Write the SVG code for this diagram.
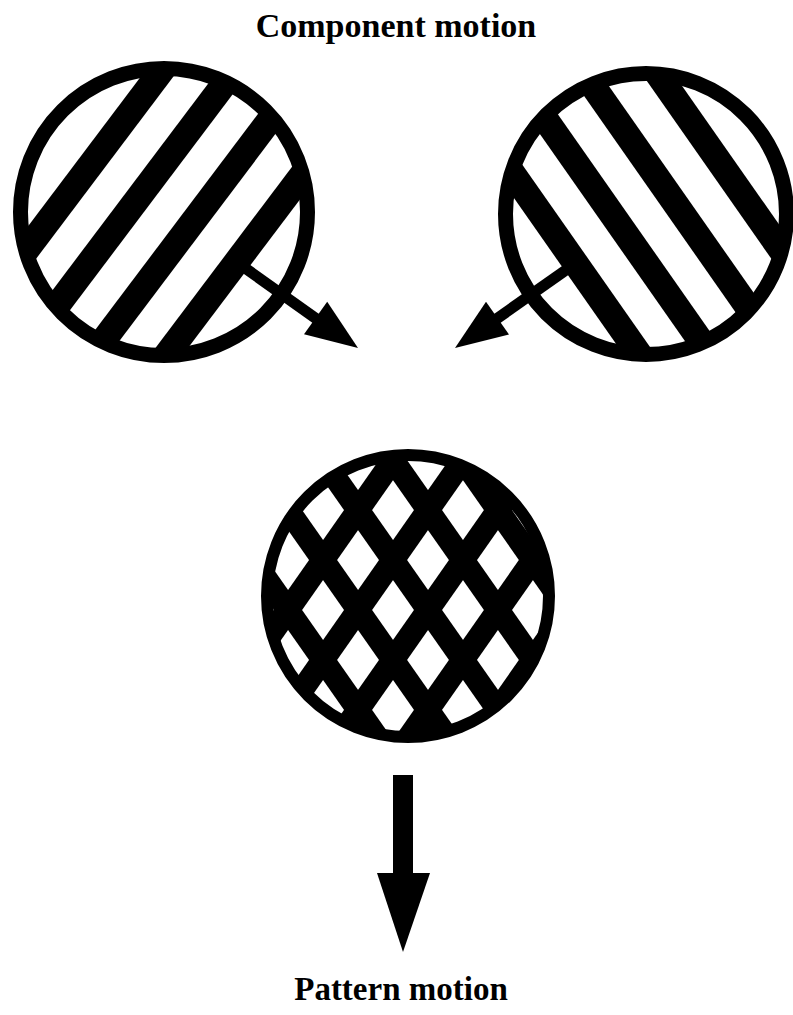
<svg xmlns="http://www.w3.org/2000/svg" width="793" height="1015" viewBox="0 0 793 1015">
<style>
.lbl{font-family:"Liberation Serif","Times New Roman",serif;font-weight:bold;fill:#000;text-anchor:middle}
.ring{fill:none;stroke:#000;stroke-width:15}
.stripe{stroke:#000;stroke-width:26;fill:none}
.hatch{stroke:#000;stroke-width:23;fill:none}
.shaft{stroke:#000;stroke-width:11;fill:none}
</style>
<defs>
<clipPath id="clipL"><circle cx="164" cy="212" r="145"/></clipPath>
<clipPath id="clipR"><circle cx="646" cy="214" r="142"/></clipPath>
<clipPath id="clipB"><circle cx="408" cy="596" r="142"/></clipPath>
</defs>
<rect width="793" height="1015" fill="#fff"/>
<text class="lbl" x="396" y="37" font-size="34">Component motion</text>
<text class="lbl" x="401" y="1000" font-size="33">Pattern motion</text>
<g id="left-grating">
<g clip-path="url(#clipL)">
<g transform="translate(164,212) rotate(37)">
<line class="stripe" x1="-87" y1="-200" x2="-87" y2="200"/>
<line class="stripe" x1="-29" y1="-200" x2="-29" y2="200"/>
<line class="stripe" x1="29" y1="-200" x2="29" y2="200"/>
<line class="stripe" x1="88" y1="-200" x2="88" y2="200"/>
</g>
</g>
<circle class="ring" cx="164" cy="212" r="143.5"/>
</g>
<g id="right-grating">
<g clip-path="url(#clipR)">
<g transform="translate(646,214) rotate(145)">
<line class="stripe" x1="-90" y1="-200" x2="-90" y2="200"/>
<line class="stripe" x1="-30" y1="-200" x2="-30" y2="200"/>
<line class="stripe" x1="28" y1="-200" x2="28" y2="200"/>
<line class="stripe" x1="86" y1="-200" x2="86" y2="200"/>
</g>
</g>
<circle class="ring" cx="646" cy="214" r="140.5"/>
</g>
<g id="plaid">
<g clip-path="url(#clipB)">
<g transform="translate(428,610) rotate(-35)">
<line class="hatch" x1="-229.2" y1="-250" x2="-229.2" y2="250"/>
<line class="hatch" x1="-171.9" y1="-250" x2="-171.9" y2="250"/>
<line class="hatch" x1="-114.6" y1="-250" x2="-114.6" y2="250"/>
<line class="hatch" x1="-57.3" y1="-250" x2="-57.3" y2="250"/>
<line class="hatch" x1="0" y1="-250" x2="0" y2="250"/>
<line class="hatch" x1="57.3" y1="-250" x2="57.3" y2="250"/>
<line class="hatch" x1="114.6" y1="-250" x2="114.6" y2="250"/>
<line class="hatch" x1="171.9" y1="-250" x2="171.9" y2="250"/>
</g>
<g transform="translate(428,610) rotate(35)">
<line class="hatch" x1="-229.2" y1="-250" x2="-229.2" y2="250"/>
<line class="hatch" x1="-171.9" y1="-250" x2="-171.9" y2="250"/>
<line class="hatch" x1="-114.6" y1="-250" x2="-114.6" y2="250"/>
<line class="hatch" x1="-57.3" y1="-250" x2="-57.3" y2="250"/>
<line class="hatch" x1="0" y1="-250" x2="0" y2="250"/>
<line class="hatch" x1="57.3" y1="-250" x2="57.3" y2="250"/>
<line class="hatch" x1="114.6" y1="-250" x2="114.6" y2="250"/>
<line class="hatch" x1="171.9" y1="-250" x2="171.9" y2="250"/>
</g>
</g>
<circle cx="408" cy="596" r="141" fill="none" stroke="#000" stroke-width="12"/>
</g>
<g id="connectors">
<line class="shaft" x1="245" y1="268" x2="318" y2="320"/>
<polygon points="304,334.3 327.2,301.7 358,348" fill="#000"/>
<line class="shaft" x1="566" y1="270" x2="495" y2="320"/>
<polygon points="509,334.5 486,301.7 455,348" fill="#000"/>
<rect x="393" y="775" width="20" height="100" fill="#000"/>
<polygon points="377,873 430,873 403,952" fill="#000"/>
</g>
</svg>
